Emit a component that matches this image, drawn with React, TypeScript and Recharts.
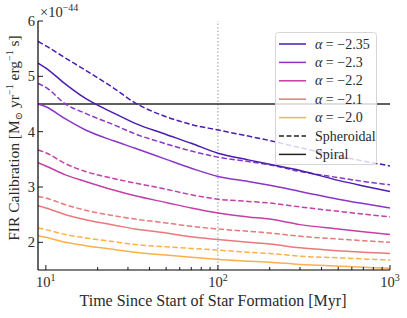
import { LineChart, Line, XAxis, YAxis, ReferenceLine } from "recharts"

// time since start of star formation [Myr]
const times = [9, 10, 13, 17, 25, 33, 50, 70, 100, 150, 200, 300, 500, 700, 1000]

const alphas = ["−2.35", "−2.3", "−2.2", "−2.1", "−2.0"]
const colors = ["#4a1cb0", "#8a36c8", "#c43fa8", "#e9797a", "#fbb04c"]

// FIR calibration [1e-44 Msun yr^-1 erg^-1 s], spheroidal (dashed)
const spheroidal235 = [5.63, 5.55, 5.33, 5.11, 4.78, 4.52, 4.27, 4.13, 4.03, 3.92, 3.84, 3.71, 3.56, 3.47, 3.38]
const spheroidal230 = [4.87, 4.8, 4.5, 4.33, 4.12, 3.96, 3.78, 3.65, 3.54, 3.46, 3.4, 3.28, 3.17, 3.1, 3.04]
const spheroidal220 = [3.67, 3.62, 3.42, 3.28, 3.15, 3.07, 2.96, 2.86, 2.78, 2.74, 2.71, 2.64, 2.56, 2.51, 2.46]
const spheroidal210 = [2.83, 2.8, 2.68, 2.58, 2.48, 2.42, 2.35, 2.29, 2.24, 2.2, 2.17, 2.11, 2.06, 2.03, 2.0]
const spheroidal200 = [2.26, 2.23, 2.14, 2.08, 2.01, 1.96, 1.92, 1.89, 1.86, 1.82, 1.8, 1.75, 1.72, 1.7, 1.68]

// spiral (solid)
const spiral235 = [5.24, 5.15, 4.86, 4.6, 4.33, 4.15, 3.95, 3.79, 3.61, 3.49, 3.41, 3.3, 3.12, 3.02, 2.92]
const spiral230 = [4.5, 4.45, 4.23, 4.03, 3.83, 3.7, 3.5, 3.34, 3.19, 3.1, 3.03, 2.92, 2.78, 2.7, 2.62]
const spiral220 = [3.44, 3.38, 3.22, 3.1, 2.94, 2.84, 2.72, 2.62, 2.53, 2.46, 2.42, 2.32, 2.24, 2.19, 2.14]
const spiral210 = [2.66, 2.62, 2.5, 2.41, 2.31, 2.24, 2.17, 2.1, 2.05, 2.0, 1.97, 1.9, 1.85, 1.82, 1.8]
const spiral200 = [2.12, 2.09, 2.0, 1.94, 1.87, 1.82, 1.77, 1.73, 1.69, 1.66, 1.64, 1.6, 1.57, 1.55, 1.53]

const spheroidal = [spheroidal235, spheroidal230, spheroidal220, spheroidal210, spheroidal200]
const spiral = [spiral235, spiral230, spiral220, spiral210, spiral200]

const xTicks = [10, 20, 30, 40, 50, 60, 70, 80, 90, 100, 200, 300, 400, 500, 600, 700, 800, 900, 1000]
const yTicks = [2, 3, 4, 5, 6]

const data = times.map((t, i) => {
  const row: Record<string, number> = { t }
  alphas.forEach((_, k) => {
    row["s" + k] = spheroidal[k][i]
    row["p" + k] = spiral[k][i]
  })
  return row
})

const FONT = "'Liberation Serif', 'DejaVu Serif', serif"
const INK = "#2a2a2a"
const L = 38
const T = 21
const R = 390
const B = 270

const isMajor = (v: number) => v === 10 || v === 100 || v === 1000

function BottomTick(props: any) {
  const { x, payload } = props
  const v = payload.value
  const major = isMajor(v)
  return (
    <g>
      <line x1={x} x2={x} y1={B} y2={B - (major ? 5 : 3)} stroke="#000" strokeWidth={0.9} />
      {major && (
        <text x={x} y={287} textAnchor="middle" fontFamily={FONT} fontSize={14.5} fill={INK}>
          10<tspan fontSize={10} dy={-6}>{Math.round(Math.log10(v))}</tspan>
        </text>
      )}
    </g>
  )
}

function TopTick(props: any) {
  const { x, payload } = props
  const major = isMajor(payload.value)
  return <line x1={x} x2={x} y1={T} y2={T + (major ? 5 : 3)} stroke="#000" strokeWidth={0.9} />
}

function LeftTick(props: any) {
  const { y, payload } = props
  return (
    <g>
      <line x1={L} x2={L + 5} y1={y} y2={y} stroke="#000" strokeWidth={0.9} />
      <text x={35} y={y + 5} textAnchor="end" fontFamily={FONT} fontSize={14.5} fill={INK}>
        {payload.value}
      </text>
    </g>
  )
}

function RightTick(props: any) {
  const { y } = props
  return <line x1={R} x2={R - 5} y1={y} y2={y} stroke="#000" strokeWidth={0.9} />
}

function LegendBox() {
  const rows = alphas.map((a, k) => ({ label: `= ${a}`, color: colors[k], dash: undefined as string | undefined, alpha: true }))
  rows.push({ label: "Spheroidal", color: "#222", dash: "5 2.5", alpha: false })
  rows.push({ label: "Spiral", color: "#222", dash: undefined, alpha: false })
  return (
    <svg width={103} height={134} style={{ position: "absolute", left: 275, top: 32 }}>
      <rect x={0.5} y={0.5} width={101} height={132} rx={3} fill="rgba(255,255,255,0.8)" stroke="#d6d6d6" />
      {rows.map((r, i) => {
        const cy = 12 + i * 18.4
        return (
          <g key={i}>
            <line x1={4} x2={31} y1={cy} y2={cy} stroke={r.color} strokeWidth={1.5} strokeDasharray={r.dash} />
            <text x={40} y={cy + 4.5} fontFamily={FONT} fontSize={14} fill={INK}>
              {r.alpha ? (
                <>
                  <tspan fontStyle="italic">α</tspan> {r.label}
                </>
              ) : (
                r.label
              )}
            </text>
          </g>
        )
      })}
    </svg>
  )
}

export default function App() {
  return (
    <div style={{ position: "absolute", left: 0, top: 0, width: 407, height: 318, background: "#fff" }}>
      <LineChart width={407} height={318} data={data} margin={{ top: T, right: 407 - R, bottom: 0, left: 0 }}>
        <XAxis
          xAxisId="b"
          dataKey="t"
          type="number"
          scale="log"
          domain={[9, 1000]}
          allowDataOverflow
          ticks={xTicks}
          interval={0}
          height={318 - B}
          tickLine={false}
          axisLine={{ stroke: "#000", strokeWidth: 1.2 }}
          tick={<BottomTick />}
        />
        <XAxis
          xAxisId="top"
          dataKey="t"
          orientation="top"
          type="number"
          scale="log"
          domain={[9, 1000]}
          allowDataOverflow
          ticks={xTicks}
          interval={0}
          height={0}
          tickLine={false}
          axisLine={{ stroke: "#000", strokeWidth: 1.2 }}
          tick={<TopTick />}
        />
        <YAxis
          yAxisId="l"
          type="number"
          domain={[1.5, 6]}
          allowDataOverflow
          ticks={yTicks}
          interval={0}
          width={L}
          tickLine={false}
          axisLine={{ stroke: "#000", strokeWidth: 1.2 }}
          tick={<LeftTick />}
        />
        <YAxis
          yAxisId="r"
          orientation="right"
          type="number"
          domain={[1.5, 6]}
          allowDataOverflow
          ticks={yTicks}
          interval={0}
          width={0}
          tickLine={false}
          axisLine={{ stroke: "#000", strokeWidth: 1.2 }}
          tick={<RightTick />}
        />
        <ReferenceLine xAxisId="b" yAxisId="l" x={100} stroke="#999" strokeWidth={1} strokeDasharray="1.5 2" />
        <ReferenceLine xAxisId="b" yAxisId="l" y={4.5} stroke="#2a2a2a" strokeWidth={1.5} />
        {alphas.map((_, k) => (
          <Line
            key={"s" + k}
            xAxisId="b"
            yAxisId="l"
            dataKey={"s" + k}
            type="monotone"
            stroke={colors[k]}
            strokeWidth={1.5}
            strokeDasharray="5.5 2.5"
            dot={false}
            isAnimationActive={false}
          />
        ))}
        {alphas.map((_, k) => (
          <Line
            key={"p" + k}
            xAxisId="b"
            yAxisId="l"
            dataKey={"p" + k}
            type="monotone"
            stroke={colors[k]}
            strokeWidth={1.5}
            dot={false}
            isAnimationActive={false}
          />
        ))}
      </LineChart>
      <svg width={407} height={318} style={{ position: "absolute", left: 0, top: 0, pointerEvents: "none" }}>
        <text x={40} y={17} fontFamily={FONT} fontSize={14.5} fill={INK}>
          ×10<tspan fontSize={10} dy={-6}>−44</tspan>
        </text>
        <text x={213} y={306} textAnchor="middle" fontFamily={FONT} fontSize={16} fill={INK}>
          Time Since Start of Star Formation [Myr]
        </text>
        <text transform="translate(19,138) rotate(-90)" textAnchor="middle" fontFamily={FONT} fontSize={15.5} fill={INK}>
          FIR Calibration [M<tspan fontSize={10} dy={3}>⊙</tspan>
          <tspan dy={-3}> yr</tspan>
          <tspan fontSize={10} dy={-6}>−1</tspan>
          <tspan dy={6}> erg</tspan>
          <tspan fontSize={10} dy={-6}>−1</tspan>
          <tspan dy={6}> s]</tspan>
        </text>
      </svg>
      <LegendBox />
    </div>
  )
}
